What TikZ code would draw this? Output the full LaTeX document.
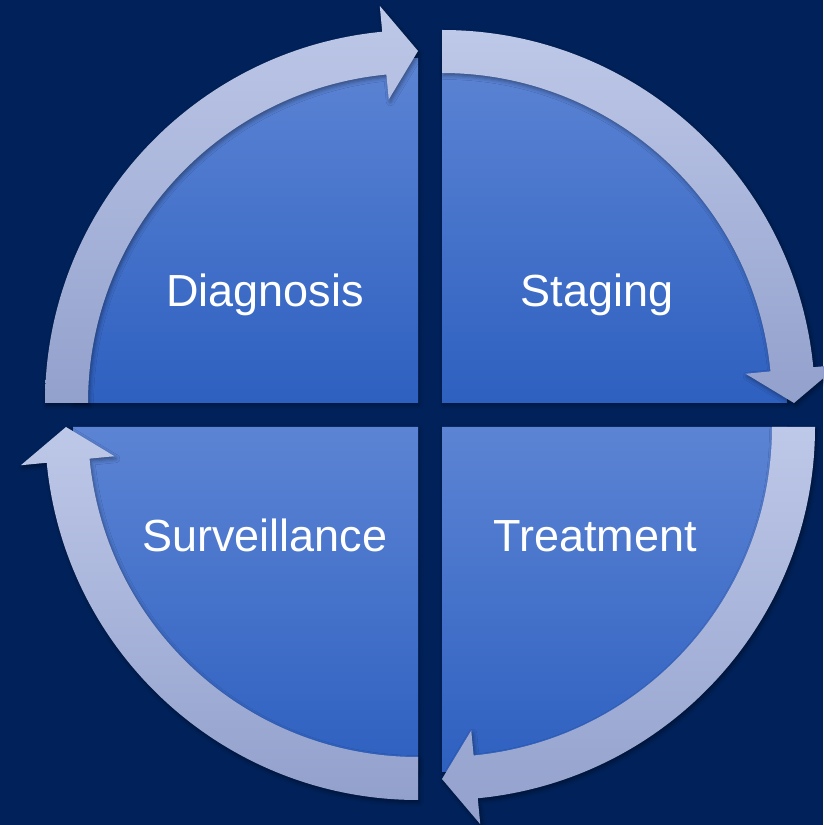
\documentclass[tikz,border=0pt]{standalone}
\usepackage{fontspec}
\setmainfont{Liberation Sans}
\usetikzlibrary{shadows.blur}
\definecolor{cyclenavy}{RGB}{0,33,89}
\definecolor{pietop}{RGB}{92,132,212}
\definecolor{piebottom}{RGB}{46,96,192}
\definecolor{ringtop}{RGB}{190,200,232}
\definecolor{ringbottom}{RGB}{146,160,204}

\begin{document}
\begin{tikzpicture}[
  x=1pt, y=1pt,
  pie/.style={
    top color=pietop, bottom color=piebottom,
    blur shadow={shadow xshift=1pt, shadow yshift=-2pt,
                 shadow blur radius=4pt, shadow opacity=30}
  },
  ring/.style={
    top color=ringtop, bottom color=ringbottom,
    blur shadow={shadow xshift=1.5pt, shadow yshift=-2.5pt,
                 shadow blur radius=4pt, shadow opacity=40}
  },
  phase/.style={font=\fontsize{45}{54}\selectfont, text=white,
                anchor=base, inner sep=0pt}
]
\fill[cyclenavy] (0,0) rectangle (823,825);
\useasboundingbox (0,0) rectangle (823,825);

% quarter pies, corner x / corner y / start angle
\foreach \cx/\cy/\tail in {418/422/180, 442/422/90, 442/398/0, 418/398/-90}{
  \pgfmathsetmacro{\head}{\tail-90}
  \begin{scope}[shift={(\cx,\cy)}]
    \path[pie] (0,0) -- (\tail:345)
      arc[start angle=\tail, end angle=\head, radius=345] -- cycle;
  \end{scope}
}

% clockwise arrows round each quarter
\foreach \cx/\cy/\tail in {418/422/180, 442/422/90, 442/398/0, 418/398/-90}{
  \pgfmathsetmacro{\head}{\tail-90}
  \pgfmathsetmacro{\hbase}{\head+5.5}
  \begin{scope}[shift={(\cx,\cy)}]
    \path[ring] (\tail:373)
      arc[start angle=\tail, end angle=\hbase, radius=373]
      -- (\hbase:399) -- (\head:352) -- (\hbase:305) -- (\hbase:330)
      arc[start angle=\hbase, end angle=\tail, radius=330] -- cycle;
  \end{scope}
}

\node[phase] (diagnosis)    at (265,518) {Diagnosis};
\node[phase] (staging)      at (597,518) {Staging};
\node[phase] (treatment)    at (595,273) {Treatment};
\node[phase] (surveillance) at (265,273) {Surveillance};
\end{tikzpicture}
\end{document}
